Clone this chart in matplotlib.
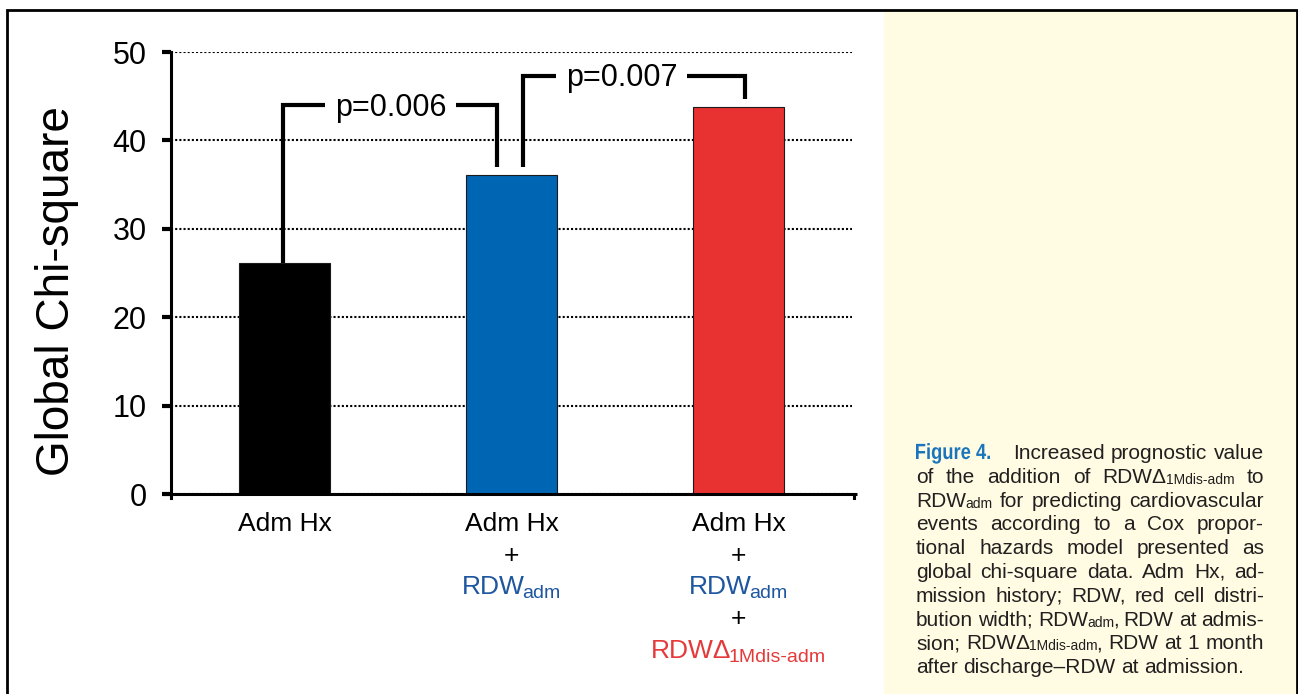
import re
import matplotlib
matplotlib.use('Agg')
import matplotlib.pyplot as plt
from matplotlib.transforms import IdentityTransform, Affine2D
from matplotlib.patches import Rectangle, PathPatch
from matplotlib.textpath import TextPath
from matplotlib.font_manager import FontProperties

plt.rcParams['font.family'] = ['Liberation Sans', 'DejaVu Sans']

# ---------------- data ----------------
categories = ['Adm Hx', 'Adm Hx + RDWadm', 'Adm Hx + RDWadm + RDWΔ1Mdis-adm']
chi_square = [26.1, 36.1, 43.8]
bar_colors = ['#000000', '#0066B3', '#E83232']
y_ticks = [0, 10, 20, 30, 40, 50]
y_label = 'Global Chi-square'
p_values = ['p=0.006', 'p=0.007']
comparisons = [(0, 1), (1, 2)]
label_lines = [
    ['Adm Hx'],
    ['Adm Hx', '+', 'RDW_{adm}'],
    ['Adm Hx', '+', 'RDW_{adm}', '+', 'RDWΔ_{1Mdis-adm}'],
]
caption_head = 'Figure 4.'
caption_lines = [
    'Increased prognostic value',
    'of the addition of RDWΔ_{1Mdis-adm} to',
    'RDW_{adm} for predicting cardiovascular',
    'events according to a Cox propor-',
    'tional hazards model presented as',
    'global chi-square data. Adm Hx, ad-',
    'mission history; RDW, red cell distri-',
    'bution width; RDW_{adm}, RDW at admis-',
    'sion; RDWΔ_{1Mdis-adm}, RDW at 1 month',
    'after discharge–RDW at admission.',
]

# ---------------- styles ----------------
line_colors = {'Adm Hx': 'black', '+': 'black',
               'RDW_{adm}': '#1E56A0', 'RDWΔ_{1Mdis-adm}': '#E53A3A'}
# bracket geometry: (left leg x, right leg x, top y, left bottom y, right bottom y, text x)
bracket_geom = [
    (-0.006, 0.936, 44.0, None, 37.0, 0.467),
    (1.051, 2.029, 47.3, 37.0, 44.7, 1.485),
]

W, H = 1298, 694
fig = plt.figure(figsize=(W / 100, H / 100), dpi=100)
ID = IdentityTransform()


def Y(y):
    return H - y


# background caption panel and frame
fig.add_artist(Rectangle((884, -2), 412, Y(10) + 2, transform=ID,
                         facecolor='#FFFCE3', edgecolor='none', zorder=0))
fig.add_artist(Rectangle((6.5, -6), 1290, Y(9.5) + 6, transform=ID, fill=False,
                         edgecolor='black', linewidth=2, zorder=5))

# ---------------- axes ----------------
ax = fig.add_axes([171 / W, Y(494) / H, 681 / W, 442 / H])
ax.patch.set_alpha(0)
ax.set_xlim(-0.5, 2.5)
ax.set_ylim(0, 50)
xs = list(range(len(chi_square)))
ax.bar(xs, chi_square, width=0.4, color=bar_colors, edgecolor='#1a1a1a',
       linewidth=0.8, zorder=3)
ax.set_yticks(y_ticks)
ax.yaxis.grid(True, color='black', linestyle=(0, (1, 1)), linewidth=1.5)
ax.set_axisbelow(True)
for s in ['top', 'right', 'bottom']:
    ax.spines[s].set_visible(False)
ax.spines['left'].set_linewidth(2.2)
ax.tick_params(axis='y', direction='out', length=6.5, width=3, labelsize=22, pad=11)
ax.set_xticks([])

# bottom axis line
ax.plot([-0.535, 2.52], [0, 0], color='black', lw=2.2, clip_on=False,
        solid_capstyle='butt', zorder=4)
ax.plot([-0.5, -0.5], [0, -0.45], color='black', lw=2.2, clip_on=False, zorder=4)
ax.plot([2.508, 2.508], [0, -0.45], color='black', lw=2.2, clip_on=False, zorder=4)

fig.text(57, Y(291.5), y_label, rotation=90, fontsize=33, ha='center',
         va='center', transform=ID)

fig.canvas.draw()
renderer = fig.canvas.get_renderer()
px_per_unit = ax.transData.transform((0, 1))[1] - ax.transData.transform((0, 0))[1]

# ---------------- brackets ----------------
for (i, j), p, g in zip(comparisons, p_values, bracket_geom):
    xl, xr, yt, ylb, yrb, xt = g
    if ylb is None:
        ylb = chi_square[i]
    t = ax.text(xt, yt - 10.5 / px_per_unit, p, fontsize=22, ha='center',
                va='baseline', zorder=6)
    bb = t.get_window_extent(renderer)
    inv = ax.transData.inverted()
    gx0 = inv.transform((bb.x0 - 9.5, 0))[0]
    gx1 = inv.transform((bb.x1 + 9.5, 0))[0]
    kw = dict(color='black', lw=3, solid_joinstyle='miter', solid_capstyle='butt',
              zorder=5, clip_on=False)
    ax.plot([xl, xl, gx0], [ylb, yt, yt], **kw)
    ax.plot([gx1, xr, xr], [yt, yt, yrb], **kw)


# ---------------- rich text helpers ----------------
def seg_parse(word):
    parts, pos = [], 0
    for m in re.finditer(r'_\{([^}]*)\}', word):
        if m.start() > pos:
            parts.append((word[pos:m.start()], False))
        parts.append((m.group(1), True))
        pos = m.end()
    if pos < len(word):
        parts.append((word[pos:], False))
    return parts


def build_word(word, size, subsize, subdy, color, seg_gap=1.0, **kw):
    items = []
    for txt, small in seg_parse(word):
        t = fig.text(0, 0, txt, fontsize=subsize if small else size, color=color,
                     transform=ID, ha='left', va='baseline', **kw)
        w = t.get_window_extent(renderer).width
        items.append((t, w, subdy if small else 0))
    total = sum(w for _, w, _ in items) + seg_gap * (len(items) - 1)
    return items, total


def place_word(items, x, y, seg_gap=1.0):
    for t, w, dy in items:
        t.set_position((x, y + dy))
        x += w + seg_gap


# ---------------- category labels ----------------
label_baselines = [531, 563, 594, 626, 658]
for xi, lines in zip(xs, label_lines):
    cx = ax.transData.transform((xi, 0))[0]
    for k, line in enumerate(lines):
        items, tw = build_word(line, 19, 14, -4.5, line_colors[line], seg_gap=-2.5)
        place_word(items, cx - tw / 2, Y(label_baselines[k]), seg_gap=-2.5)

# ---------------- caption ----------------
cap_left, cap_right = 916, 1264
cap_base0, cap_step = 459, 23.8
cap_color = '#231f20'

# condensed bold heading drawn as a horizontally compressed text path
tp = TextPath((0, 0), caption_head, size=22,
              prop=FontProperties(family='Liberation Sans', weight='bold'))
ext = tp.get_extents()
sx = 74.0 / ext.width
head_tr = Affine2D().translate(-ext.x0, 0).scale(sx, 1).translate(cap_left, Y(cap_base0)) + ID
fig.add_artist(PathPatch(tp, transform=head_tr, facecolor='#1B75BC',
                         edgecolor='none', zorder=6))
head_w = 74.0

for k, line in enumerate(caption_lines):
    yb = Y(cap_base0 + k * cap_step)
    words = [build_word(w, 15, 10, -1, cap_color, seg_gap=-1.0) for w in line.split(' ')]
    x0 = cap_left if k > 0 else cap_left + head_w + 23
    widths = sum(tw for _, tw in words)
    if k == len(caption_lines) - 1:
        gap = 5.5
    else:
        gap = (cap_right - x0 - widths) / (len(words) - 1)
    x = x0
    for items, tw in words:
        place_word(items, x, yb, seg_gap=-1.0)
        x += tw + gap

fig.savefig('out.png', dpi=100)
